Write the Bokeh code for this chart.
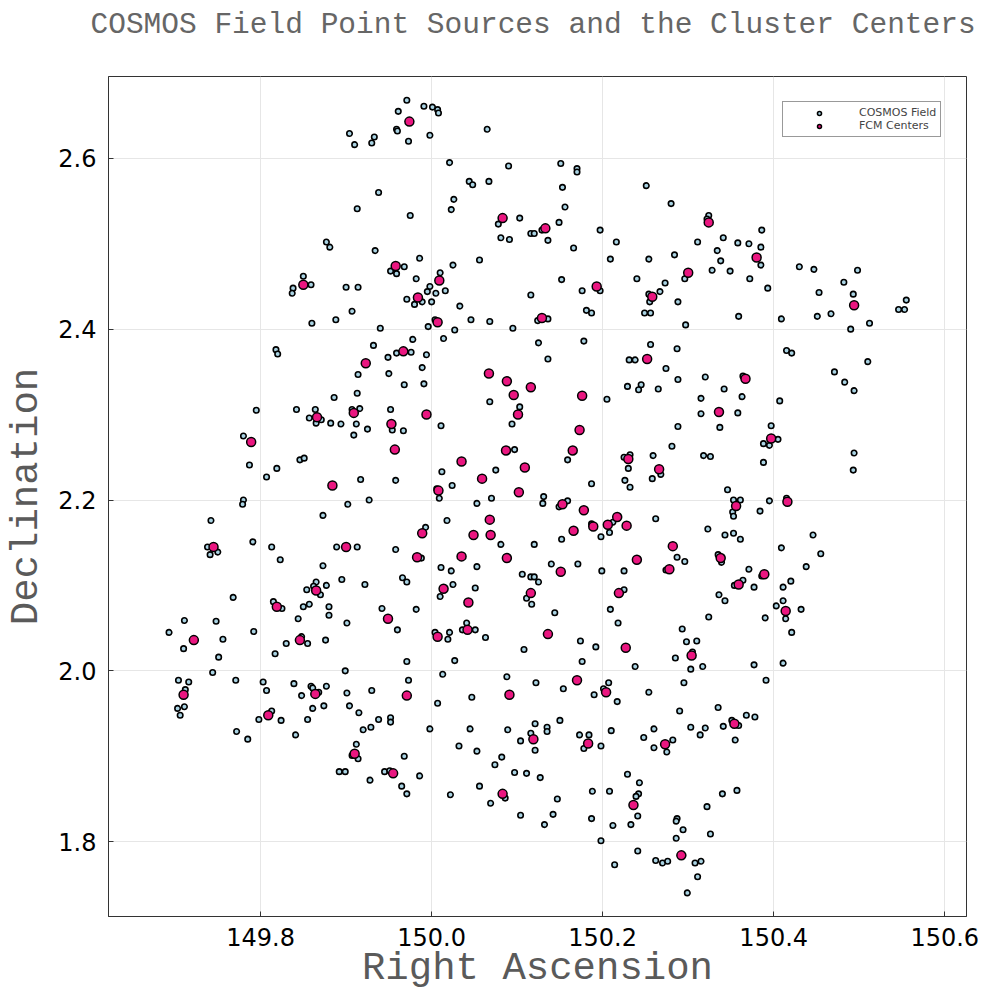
from bokeh.plotting import figure
from bokeh.models import Range1d, Legend, LegendItem, PrintfTickFormatter, FixedTicker
from bokeh.embed import file_html
from bokeh.resources import INLINE

# ---------------- data ----------------
field = [
    (149.971,2.668),(149.961,2.655),(149.959,2.634),(149.960,2.632),(149.973,2.620),(149.904,2.629),
    (149.910,2.616),(149.933,2.625),(149.930,2.618),(149.938,2.560),(149.913,2.541),(149.975,2.533),
    (149.877,2.502),(149.881,2.496),(149.934,2.492),(149.968,2.473),(149.952,2.468),(149.959,2.465),
    (149.850,2.462),(149.859,2.452),(149.838,2.448),(149.837,2.442),(149.900,2.449),(149.914,2.449),
    (149.971,2.435),(149.907,2.421),(149.888,2.411),(149.860,2.407),(149.940,2.401),(149.818,2.376),
    (149.820,2.371),(149.932,2.381),(149.959,2.372),(149.976,2.373),(149.949,2.367),
    (149.991,2.661),(150.001,2.660),(150.007,2.657),(150.008,2.653),(149.998,2.627),(150.065,2.634),
    (150.021,2.595),(150.090,2.591),(150.151,2.594),(150.170,2.588),(150.170,2.584),(150.153,2.566),
    (150.251,2.568),(150.280,2.547),(150.044,2.573),(150.048,2.569),(150.067,2.573),(150.026,2.552),
    (150.023,2.540),(150.078,2.523),(150.103,2.530),(150.129,2.516),(150.116,2.512),(150.120,2.512),
    (150.136,2.504),(150.149,2.525),(150.156,2.543),(150.081,2.507),(150.091,2.505),(150.197,2.516),
    (150.216,2.502),(150.166,2.495),(150.209,2.482),(150.254,2.482),(150.284,2.487),(149.986,2.483),
    (150.025,2.475),(150.056,2.481),(149.982,2.459),(150.010,2.466),(150.016,2.445),(149.998,2.450),
    (149.995,2.444),(150.005,2.442),(150.000,2.432),(149.980,2.429),(149.989,2.432),(150.004,2.411),
    (149.996,2.403),(150.027,2.399),(150.014,2.389),(149.978,2.388),(149.994,2.370),(150.033,2.427),
    (150.046,2.411),(150.068,2.409),(150.095,2.401),(150.116,2.440),(150.152,2.458),(150.124,2.410),
    (150.136,2.412),(150.125,2.384),(150.136,2.365),(150.176,2.445),(150.197,2.445),(150.181,2.422),
    (150.187,2.419),(150.178,2.386),(150.240,2.459),(150.254,2.441),(150.267,2.444),(150.273,2.454),
    (150.255,2.432),(150.249,2.419),(150.256,2.419),(150.288,2.432),(150.256,2.382),(150.287,2.377),
    (150.231,2.364),(150.238,2.364),
    (150.324,2.533),(150.322,2.529),(150.341,2.507),(150.311,2.502),(150.358,2.501),(150.371,2.500),
    (150.386,2.516),(150.385,2.496),(150.334,2.492),(150.338,2.480),(150.385,2.475),(150.296,2.459),
    (150.328,2.469),(150.349,2.468),(150.372,2.459),(150.393,2.448),(150.297,2.405),(150.359,2.415),
    (150.430,2.473),(150.447,2.470),(150.498,2.469),(150.482,2.455),(150.453,2.443),(150.493,2.441),
    (150.451,2.415),(150.467,2.418),(150.409,2.412),(150.490,2.400),(150.512,2.407),(150.546,2.423),
    (150.553,2.423),(150.555,2.434),(150.415,2.375),(150.421,2.372),(150.510,2.362),
    (149.914,2.347),(149.950,2.348),(149.968,2.335),(149.913,2.325),(149.886,2.320),(149.795,2.305),
    (149.842,2.306),(149.864,2.306),(149.857,2.296),(149.871,2.294),(149.865,2.290),(149.882,2.290),
    (149.894,2.289),(149.907,2.306),(149.916,2.307),(149.912,2.289),(149.909,2.276),(149.925,2.283),
    (149.952,2.306),(149.954,2.282),(149.967,2.281),(149.780,2.275),(149.787,2.241),(149.807,2.227),
    (149.819,2.237),(149.846,2.247),(149.851,2.249),(149.917,2.224),(149.958,2.223),(149.780,2.200),
    (149.779,2.195),(149.902,2.195),(149.927,2.200),(149.873,2.182),(149.742,2.176),(149.738,2.145),
    (149.750,2.139),(149.741,2.136),(149.791,2.151),(149.813,2.145),(149.823,2.130),(149.889,2.145),
    (149.913,2.145),(149.958,2.142),(149.873,2.123),(149.895,2.107),(149.922,2.101),(149.966,2.109),
    (149.971,2.104),(149.865,2.104),(149.854,2.095),(149.862,2.099),(149.870,2.089),(149.877,2.100),
    (149.768,2.086),(149.815,2.081),(149.825,2.073),(149.850,2.075),(149.857,2.078),(149.880,2.075),
    (149.880,2.065),(149.844,2.061),(149.901,2.056),(149.942,2.073),(149.960,2.048),(149.711,2.059),
    (149.748,2.058),(149.693,2.045),(149.792,2.046),
    (149.989,2.355),(149.991,2.336),(150.068,2.315),(150.103,2.309),(150.094,2.289),(150.011,2.287),
    (150.205,2.318),(150.229,2.333),(150.245,2.335),(150.242,2.329),(150.265,2.330),(150.274,2.354),
    (150.288,2.341),(150.288,2.286),(150.281,2.263),(150.097,2.259),(150.159,2.247),(150.012,2.233),
    (150.075,2.235),(150.024,2.217),(150.006,2.213),(150.009,2.202),(150.070,2.202),(150.053,2.196),
    (150.131,2.204),(150.130,2.196),(150.149,2.192),(150.159,2.199),(150.187,2.219),(150.225,2.250),
    (150.232,2.253),(150.230,2.237),(150.259,2.252),(150.268,2.230),(150.258,2.225),(150.226,2.223),
    (150.232,2.215),(150.018,2.176),(149.993,2.168),(149.988,2.132),(150.081,2.148),(150.120,2.148),
    (150.152,2.154),(150.187,2.172),(150.212,2.174),(150.208,2.162),(150.198,2.157),(150.262,2.178),
    (150.011,2.121),(150.023,2.117),(150.053,2.122),(150.106,2.113),(150.116,2.110),(150.120,2.110),
    (150.125,2.104),(150.140,2.125),(150.171,2.125),(150.199,2.117),(150.225,2.117),(150.287,2.133),
    (150.274,2.118),(150.025,2.101),(150.010,2.087),(150.051,2.097),(150.111,2.085),(150.117,2.078),
    (150.225,2.095),(150.209,2.072),(150.218,2.056),(150.144,2.068),(149.982,2.072),(150.041,2.056),
    (150.036,2.048),(150.051,2.048),(150.021,2.045),(150.004,2.045),
    (150.296,2.128),(150.471,2.350),(150.483,2.338),(150.494,2.328),(150.320,2.344),(150.364,2.345),
    (150.342,2.330),(150.315,2.319),(150.363,2.321),(150.315,2.301),(150.358,2.302),(150.337,2.285),
    (150.407,2.316),(150.397,2.287),(150.405,2.271),(150.388,2.266),(150.395,2.264),(150.318,2.252),
    (150.326,2.251),(150.388,2.244),(150.494,2.255),(150.493,2.235),(150.346,2.212),(150.353,2.200),
    (150.361,2.200),(150.352,2.186),(150.353,2.181),(150.384,2.187),(150.395,2.199),(150.415,2.202),
    (150.323,2.166),(150.343,2.159),(150.353,2.161),(150.361,2.154),(150.446,2.159),(150.409,2.144),
    (150.455,2.137),(150.438,2.122),(150.335,2.136),(150.339,2.127),(150.371,2.119),(150.386,2.111),
    (150.364,2.106),(150.354,2.100),(150.377,2.098),(150.411,2.098),(150.420,2.105),(150.336,2.089),
    (150.343,2.082),(150.411,2.082),(150.403,2.076),(150.414,2.061),(150.432,2.072),(150.390,2.062),
    (150.324,2.063),(150.293,2.049),
    (149.710,2.026),(149.756,2.037),(149.751,2.016),(149.744,1.998),(149.771,1.989),(149.704,1.989),
    (149.716,1.987),(149.712,1.978),(149.711,1.958),(149.703,1.956),(149.706,1.948),(149.817,2.020),
    (149.830,2.032),(149.848,2.040),(149.855,2.032),(149.876,2.036),(149.803,1.987),(149.807,1.977),
    (149.839,1.985),(149.848,1.971),(149.859,1.982),(149.861,1.980),(149.868,1.975),(149.877,1.982),
    (149.861,1.956),(149.874,1.959),(149.855,1.943),(149.813,1.953),(149.798,1.943),(149.824,1.942),
    (149.772,1.929),(149.785,1.920),(149.841,1.925),(149.899,2.000),(149.901,1.974),(149.904,1.959),
    (149.915,1.951),(149.930,1.977),(149.938,1.943),(149.952,1.945),(149.952,1.940),(149.920,1.931),
    (149.929,1.934),(149.971,2.011),(149.973,1.989),(149.912,1.914),(149.907,1.901),(149.914,1.897),
    (149.892,1.882),(149.899,1.882),(149.928,1.872),(149.945,1.882),(149.951,1.883),(149.968,1.900),
    (149.965,1.865),(149.971,1.856),
    (150.019,2.037),(150.063,2.039),(150.174,2.035),(150.108,2.025),(150.192,2.028),(150.027,2.012),
    (150.176,2.011),(150.238,2.005),(150.285,2.015),(150.013,1.996),(150.088,1.993),(150.122,1.986),
    (150.047,1.969),(150.007,1.962),(150.154,1.979),(150.190,1.972),(150.207,1.986),(150.201,1.979),
    (150.217,1.964),(150.254,1.975),(150.290,1.953),(149.998,1.932),(150.045,1.932),(150.089,1.931),
    (150.032,1.912),(150.053,1.906),(150.121,1.938),(150.116,1.927),(150.104,1.918),(150.121,1.907),
    (150.135,1.934),(150.135,1.929),(150.150,1.942),(150.082,1.899),(150.074,1.890),(150.097,1.881),
    (150.111,1.880),(150.127,1.875),(149.986,1.877),(150.056,1.865),(150.022,1.855),(150.086,1.851),
    (150.069,1.845),(150.104,1.831),(150.147,1.850),(150.142,1.832),(150.132,1.820),(150.173,1.925),
    (150.184,1.925),(150.178,1.909),(150.198,1.912),(150.210,1.930),(150.188,1.859),(150.208,1.859),
    (150.187,1.827),(150.229,1.879),(150.243,1.869),(150.242,1.856),(150.239,1.853),(150.241,1.830),
    (150.233,1.820),(150.212,1.819),(150.198,1.801),(150.241,1.789),(150.214,1.773),(150.262,1.778),
    (150.270,1.775),(150.276,1.777),(150.248,1.922),(150.260,1.932),(150.260,1.910),(150.275,1.905),
    (150.282,1.919),
    (150.421,2.045),(150.298,2.034),(150.310,2.035),(150.305,2.022),(150.303,2.002),(150.317,2.005),
    (150.377,2.007),(150.411,2.009),(150.295,1.986),(150.391,1.989),(150.335,1.957),(150.303,1.934),
    (150.320,1.933),(150.314,1.925),(150.341,1.935),(150.351,1.942),(150.359,1.936),(150.368,1.948),
    (150.378,1.946),(150.355,1.919),(150.340,1.856),(150.357,1.860),(150.322,1.841),(150.287,1.827),
    (150.286,1.824),(150.294,1.814),(150.326,1.809),(150.286,1.804),(150.308,1.775),(150.315,1.777),
    (150.311,1.759),(150.299,1.740),
]
centers = [
    (149.974,2.643),(149.958,2.474),(149.850,2.452),(149.967,2.374),(149.923,2.360),
    (150.083,2.530),(150.133,2.518),(150.009,2.457),(149.984,2.437),(150.007,2.408),(150.129,2.413),
    (150.193,2.450),(150.258,2.438),(150.252,2.365),
    (150.324,2.525),(150.380,2.484),(150.300,2.466),(150.494,2.428),
    (149.866,2.297),(149.909,2.302),(149.953,2.289),(149.957,2.259),(149.789,2.268),(149.884,2.217),
    (149.745,2.145),(149.900,2.145),(149.865,2.094),(149.819,2.075),(149.949,2.061),
    (150.067,2.348),(150.088,2.339),(150.096,2.323),(150.116,2.332),(150.101,2.300),(149.994,2.300),
    (150.176,2.322),(150.173,2.282),(150.087,2.258),(150.165,2.258),(150.035,2.245),(150.109,2.238),
    (150.059,2.225),(150.008,2.211),(150.102,2.209),(150.153,2.195),(150.230,2.248),(150.266,2.236),
    (150.178,2.188),(150.068,2.177),(150.069,2.159),(150.049,2.159),(149.989,2.161),(149.983,2.133),
    (150.166,2.164),(150.189,2.169),(150.206,2.171),(150.217,2.180),(150.228,2.170),(150.035,2.134),
    (150.088,2.132),(150.151,2.116),(150.240,2.130),(150.282,2.146),(150.278,2.119),(150.014,2.096),
    (150.043,2.080),(150.116,2.091),(150.219,2.091),(150.042,2.048),
    (150.367,2.342),(150.336,2.303),(150.397,2.272),(150.356,2.193),(150.416,2.198),(150.338,2.132),
    (150.389,2.113),(150.359,2.101),(150.414,2.070),
    (149.722,2.036),(149.710,1.972),(149.846,2.036),(149.864,1.973),(149.809,1.948),(149.971,1.971),
    (149.910,1.903),(149.955,1.880),
    (150.007,2.040),(150.136,2.043),(150.227,2.027),(150.091,1.972),(150.170,1.989),(150.204,1.975),
    (150.119,1.920),(150.083,1.856),(150.183,1.915),(150.236,1.843),(150.273,1.914),
    (150.304,2.018),(150.354,1.938),(150.292,1.784),
]
ra_field = [a for a, b in field]
dec_field = [b for a, b in field]
ra_centers = [a for a, b in centers]
dec_centers = [b for a, b in centers]

x_ticks = [149.8, 150.0, 150.2, 150.4, 150.6]
y_ticks = [1.8, 2.0, 2.2, 2.4, 2.6]
title_text = "COSMOS Field Point Sources and the Cluster Centers"
x_label = "Right Ascension"
y_label = "Declination"
series_labels = ["COSMOS Field", "FCM Centers"]

# ---------------- figure ----------------
p = figure(width=984, height=994,
           x_range=Range1d(149.6222, 150.6254), y_range=Range1d(1.7124, 2.6958),
           output_backend="svg", toolbar_location=None,
           min_border_left=108, min_border_right=18, min_border_top=76, min_border_bottom=78)

# a blank second line keeps the title high above the frame
p.title.text = title_text + "\n "
p.title.text_font = "Liberation Mono"
p.title.text_font_size = "29.5px"
p.title.text_font_style = "normal"
p.title.text_color = "#666666"
p.title.align = "left"
p.title.offset = -18
p.title.standoff = 2

for ax, lab, ticks in ((p.xaxis, x_label, x_ticks), (p.yaxis, y_label, y_ticks)):
    ax.axis_label = lab
    ax.axis_label_text_font = "Liberation Mono"
    ax.axis_label_text_font_size = "39px"
    ax.axis_label_text_font_style = "normal"
    ax.axis_label_text_color = "#5a5a5a"
    ax.ticker = FixedTicker(ticks=ticks)
    ax.formatter = PrintfTickFormatter(format="%.1f")
    ax.major_label_text_font = "DejaVu Sans"
    ax.major_label_text_font_size = "24px"
    ax.major_label_text_color = "black"
    ax.major_tick_in = 5
    ax.major_tick_out = 0
    ax.minor_tick_line_color = None
    ax.axis_line_color = "#333333"
    ax.major_tick_line_color = "#333333"

p.xaxis.major_label_standoff = 11
p.xaxis.axis_label_standoff = -2
p.yaxis.major_label_standoff = 12
p.yaxis.axis_label_standoff = 6

p.xgrid.grid_line_color = "#e6e6e6"
p.ygrid.grid_line_color = "#e6e6e6"
p.outline_line_color = "#333333"
p.outline_line_width = 1

r1 = p.scatter(ra_field, dec_field, size=5.5, fill_color="#a9d3e3",
               line_color="black", line_width=1.6)
r2 = p.scatter(ra_centers, dec_centers, size=9, fill_color="#ea1680",
               line_color="black", line_width=1.5)

legend = Legend(items=[LegendItem(label=series_labels[0], renderers=[r1]),
                       LegendItem(label=series_labels[1], renderers=[r2])],
                location=(674, 779))
legend.label_text_font = "DejaVu Sans"
legend.label_text_font_size = "11px"
legend.glyph_width = 64
legend.glyph_height = 10
legend.label_height = 10
legend.spacing = 0
legend.padding = 4
legend.label_standoff = 8
legend.margin = 0
legend.border_line_color = "#333333"
legend.border_line_width = 1
p.add_layout(legend, "center")

open("out.html", "w").write(file_html(p, INLINE))
